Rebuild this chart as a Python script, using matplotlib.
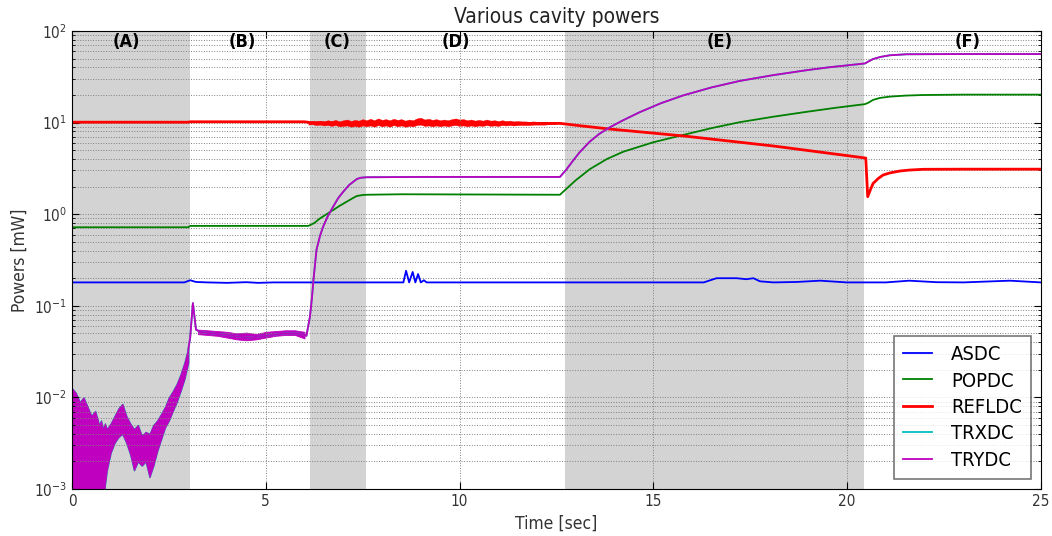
import numpy as np
import matplotlib
matplotlib.use('Agg')
import matplotlib.pyplot as plt

plt.rcParams['font.family'] = ['DejaVu Sans']
plt.rcParams['font.stretch'] = 'condensed'

# time [sec] and power [mW]
asdc_t = [0, 2.9, 3.05, 3.2, 3.5, 4.0, 4.5, 4.8, 5.2, 6.0, 8.55, 8.62, 8.70, 8.79, 8.86,
          8.93, 9.0, 9.08, 9.15, 12.7, 16.3, 16.63, 17.15, 17.4, 17.58, 17.75, 18.1, 18.7,
          19.3, 19.99, 21.0, 21.6, 22.3, 23.0, 24.2, 25.0]
asdc_v = [0.18, 0.18, 0.19, 0.182, 0.18, 0.178, 0.181, 0.178, 0.18, 0.18, 0.18, 0.241, 0.18,
          0.234, 0.18, 0.222, 0.18, 0.19, 0.18, 0.18, 0.18, 0.2, 0.2, 0.195, 0.2, 0.185, 0.18,
          0.182, 0.188, 0.18, 0.18, 0.188, 0.181, 0.18, 0.188, 0.18]

popdc_t = [0, 3.0, 3.05, 6.1, 6.25, 6.4, 6.57, 6.74, 6.9, 7.09, 7.25, 7.35, 7.5, 7.6, 8.5,
           12.59, 12.76, 13.0, 13.36, 13.8, 14.22, 15.0, 15.77, 16.5, 17.23, 18.1, 18.95,
           19.7, 20.46, 20.55, 20.67, 20.85, 21.1, 21.5, 21.96, 23.0, 25.0]
popdc_v = [0.72, 0.72, 0.745, 0.745, 0.8, 0.90, 1.0, 1.11, 1.23, 1.37, 1.5, 1.58, 1.62,
           1.63, 1.65, 1.63, 1.9, 2.35, 3.1, 4.0, 4.8, 6.1, 7.33, 8.7, 10.1, 11.6, 13.1,
           14.5, 15.9, 16.5, 17.7, 18.6, 19.2, 19.7, 20.0, 20.2, 20.2]

refl_t = [0, 3.0, 3.05, 6.0, 6.15, 7.0, 12.6, 13.1, 13.88, 15.77, 18.1, 20.48, 20.53, 20.6,
          20.67, 20.8, 20.93, 21.1, 21.36, 21.6, 21.96, 23.0, 25.0]
refl_v = [10.1, 10.1, 10.2, 10.2, 10.0, 9.8, 9.8, 9.25, 8.5, 7.15, 5.55, 4.1, 1.55, 1.85,
          2.17, 2.45, 2.68, 2.82, 2.96, 3.03, 3.09, 3.1, 3.1]
# noisy part of REFLDC (envelope)
refl_nt = [6.1, 6.2, 6.3, 6.4, 6.5, 6.6, 6.7, 6.8, 6.9, 7.0, 7.1, 7.2, 7.3, 7.4, 7.5, 7.6,
           7.7, 7.8, 7.9, 8.0, 8.1, 8.2, 8.3, 8.4, 8.5, 8.6, 8.7, 8.8, 8.9, 9.0, 9.1, 9.2,
           9.3, 9.4, 9.5, 9.6, 9.7, 9.8, 9.9, 10.0, 10.1, 10.2, 10.3, 10.4, 10.5, 10.6, 10.7,
           10.8, 10.9, 11.0, 11.1, 11.2, 11.3, 11.4, 11.5, 11.6, 11.7, 11.8, 11.9, 12.0,
           12.1, 12.2, 12.3, 12.4, 12.5]
refl_hi = [10.2, 10.4, 10.3, 10.5, 10.3, 10.6, 10.4, 10.7, 10.3, 10.6, 10.8, 10.4, 10.7,
           10.5, 10.9, 10.6, 11.0, 10.6, 11.1, 10.7, 10.9, 10.6, 11.0, 10.7, 10.9, 10.5,
           10.8, 10.6, 11.1, 11.3, 10.8, 11.0, 10.7, 10.9, 10.6, 10.8, 10.6, 10.9, 11.1,
           10.8, 10.9, 10.6, 10.8, 10.5, 10.7, 10.5, 10.8, 10.5, 10.6, 10.4, 10.6, 10.4,
           10.5, 10.3, 10.4, 10.3, 10.3, 10.2, 10.3, 10.2, 10.2, 10.1, 10.1, 10.0, 10.0]
refl_lo = [9.5, 9.6, 9.4, 9.5, 9.3, 9.4, 9.2, 9.4, 9.1, 9.2,
           9.3, 9.0, 9.2, 9.0, 9.3, 9.1, 9.3, 9.0, 9.4, 9.1,
           9.3, 9.0, 9.4, 9.1, 9.3, 9.0, 9.2, 9.1, 9.4, 9.5,
           9.2, 9.3, 9.1, 9.3, 9.1, 9.3, 9.1, 9.3, 9.4, 9.2,
           9.3, 9.1, 9.3, 9.1, 9.3, 9.2, 9.4, 9.2, 9.3, 9.2,
           9.4, 9.3, 9.4, 9.3, 9.4, 9.4, 9.4, 9.4, 9.5, 9.5,
           9.5, 9.5, 9.6, 9.6, 9.7]

trydc_t = [3.0, 3.05, 3.12, 3.2, 3.3, 3.6, 4.0, 4.3, 4.6, 5.0, 5.5, 5.9, 6.05, 6.14, 6.19,
           6.23, 6.27, 6.31, 6.4, 6.48, 6.6, 6.74, 6.87, 7.0, 7.15, 7.35, 7.45, 7.6, 9.0,
           12.59, 12.75, 12.93, 13.1, 13.36, 13.6, 13.88, 14.2, 14.65, 15.2, 15.77, 16.5,
           17.23, 18.1, 18.95, 19.5, 20.46, 20.55, 20.67, 20.85, 21.1, 21.53, 22.9, 25.0]
trydc_v = [0.033, 0.045, 0.107, 0.055, 0.052, 0.05, 0.048, 0.046, 0.045, 0.047, 0.05, 0.05,
           0.047, 0.076, 0.12, 0.19, 0.28, 0.41, 0.58, 0.73, 0.95, 1.21, 1.5, 1.76, 2.08,
           2.42, 2.5, 2.53, 2.55, 2.55, 3.05, 3.85, 4.75, 6.2, 7.5, 8.9, 10.5, 13.0, 16.3,
           19.8, 24.2, 28.5, 33.0, 37.3, 40.0, 44.2, 46.5, 49.4, 52.0, 54.3, 55.7, 56.0, 56.0]
# noisy parts of TRYDC (envelopes)
trydc_nt = [0, 0.1, 0.2, 0.3, 0.4, 0.5, 0.6, 0.7, 0.75, 0.8, 0.85, 0.9, 1.0, 1.1, 1.2, 1.3,
            1.4, 1.5, 1.6, 1.7, 1.8, 1.9, 2.0, 2.1, 2.2, 2.3, 2.4, 2.5, 2.6, 2.7, 2.8, 2.9, 3.0]
trydc_hi = [0.0126, 0.0112, 0.0089, 0.010, 0.0079, 0.0063, 0.0071, 0.005, 0.0056, 0.0045,
            0.0052, 0.0045, 0.0052, 0.0063, 0.0076, 0.0085, 0.0063, 0.0052, 0.0045, 0.005,
            0.0038, 0.0042, 0.004, 0.005, 0.0056, 0.0066, 0.0079, 0.01, 0.0117, 0.014,
            0.0178, 0.024, 0.035]
trydc_lo = [0.0005, 0.0005, 0.0005, 0.0005, 0.0005, 0.0005, 0.0005, 0.0005, 0.0005, 0.0006,
            0.0011, 0.0016, 0.0025, 0.0032, 0.0037, 0.004, 0.0032, 0.0024, 0.0016, 0.002,
            0.0018, 0.002, 0.00135, 0.0018, 0.0026, 0.0035, 0.0047, 0.0056, 0.0071, 0.0089,
            0.0117, 0.0158, 0.024]
plat_t = [3.25, 3.5, 3.75, 4.0, 4.25, 4.5, 4.75, 5.0, 5.25, 5.5, 5.75, 6.0]
plat_hi = [0.055, 0.054, 0.053, 0.052, 0.05, 0.051, 0.049, 0.052, 0.053, 0.054, 0.054, 0.052]
plat_lo = [0.049, 0.048, 0.047, 0.045, 0.043, 0.042, 0.043, 0.045, 0.047, 0.048, 0.048, 0.044]

# TRXDC lies under TRYDC
trxdc_t = trydc_t
trxdc_v = trydc_v

phases = ['(A)', '(B)', '(C)', '(D)', '(E)', '(F)']
phase_label_t = [1.4, 4.4, 6.85, 9.9, 16.7, 23.1]
phase_bounds = [0, 3.05, 6.14, 7.58, 12.72, 20.43, 25]
shaded = [True, False, True, False, True, False]

fig = plt.figure(figsize=(10.52, 5.36), dpi=100)
ax = fig.add_axes([0.0684, 0.0877, 0.9211, 0.8545])

for i in range(len(phases)):
    if shaded[i]:
        ax.axvspan(phase_bounds[i], phase_bounds[i + 1], color='lightgray', lw=0, zorder=0)
    ax.text(phase_label_t[i], 0.976, phases[i], transform=ax.get_xaxis_transform(),
            ha='center', va='center', fontsize=13, fontweight='bold')

lw = 1.3
ax.plot(asdc_t, asdc_v, color='#0000ff', lw=lw, label='ASDC')
ax.plot(popdc_t, popdc_v, color='#008000', lw=lw, label='POPDC')
ax.plot(refl_t, refl_v, color='#ff0000', lw=2.0, label='REFLDC')
ax.fill_between(refl_nt, refl_lo, refl_hi, color='#ff0000', lw=0.3)
ax.plot(trxdc_t, trxdc_v, color='#00bfbf', lw=lw, label='TRXDC')
ax.fill_between(trydc_nt, trydc_lo, trydc_hi, color='#00bfbf', lw=1.0)
ax.plot(trydc_t, trydc_v, color='#bf00bf', lw=lw, label='TRYDC')
ax.fill_between(trydc_nt, trydc_lo, trydc_hi, color='#bf00bf', lw=0.6)
ax.fill_between(plat_t, plat_lo, plat_hi, color='#bf00bf', lw=0.6)

ax.set_yscale('log')
ax.set_xlim(0, 25)
ax.set_ylim(1e-3, 1e2)
ax.set_xticks([0, 5, 10, 15, 20, 25])
ax.grid(True, which='major', axis='both', color='0.5', linestyle=':', lw=0.7)
ax.grid(True, which='minor', axis='y', color='0.5', linestyle=':', lw=0.7)
ax.tick_params(which='both', direction='in', top=True, right=True, labelsize=11, colors='black')
ax.tick_params(axis='both', which='major', length=5, labelcolor='#333333')
ax.tick_params(which='minor', length=2.5)

ax.set_title('Various cavity powers', fontsize=15, color='#222222')
ax.set_xlabel('Time [sec]', fontsize=12.5, color='#333333')
ax.set_ylabel('Powers [mW]', fontsize=12.5, color='#333333')

leg = ax.legend(loc='lower right', fontsize=14.5, fancybox=False, handlelength=1.45,
                borderaxespad=0.5, labelspacing=0.37, handletextpad=0.95, borderpad=0.45)
leg.get_frame().set_edgecolor('#555555')
leg.get_frame().set_linewidth(1.2)

fig.savefig('out.png', dpi=100)
